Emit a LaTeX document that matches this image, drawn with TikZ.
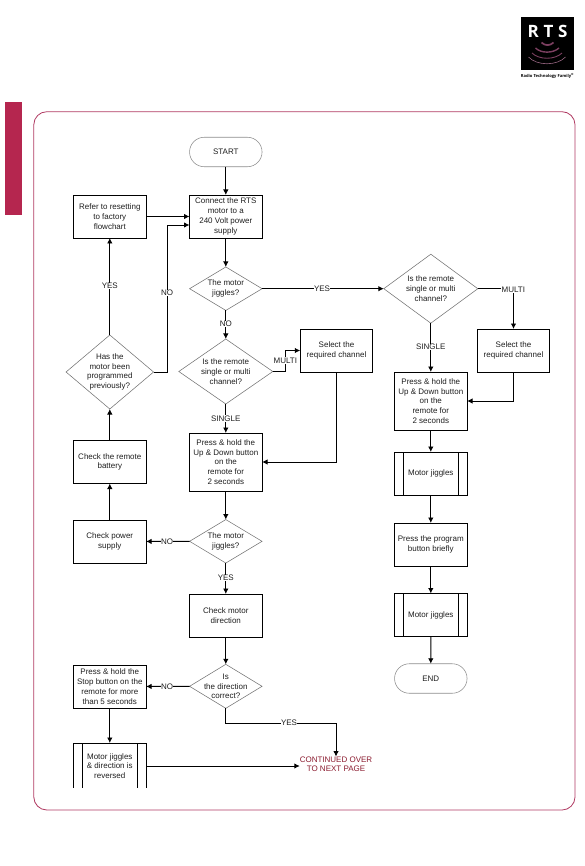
\documentclass[tikz,border=0pt]{standalone}
\usepackage{fontspec}
\setmainfont{Liberation Sans}
\newfontfamily\logofont{Open Sans}
\usetikzlibrary{shapes.geometric,shapes.misc,arrows.meta}
\definecolor{crim}{HTML}{B5264F}
\definecolor{framec}{HTML}{B03A62}
\definecolor{txtc}{HTML}{1E1E1E}
\definecolor{contc}{HTML}{8A1A2E}
\definecolor{logoarc}{HTML}{7C3F60}
\tikzset{
  x=1pt,y=-1pt,
  every node/.style={font=\fontsize{8}{9.8}\selectfont,text=txtc,align=center,inner sep=0pt,outer sep=0pt},
  box/.style={draw=black,line width=0.95pt,minimum width=72.5pt},
  h43/.style={minimum height=43pt},
  subproc/.style={box,h43,path picture={
     \draw[black,line width=0.95pt] ([xshift=9pt]path picture bounding box.north west) -- ([xshift=9pt]path picture bounding box.south west);
     \draw[black,line width=0.95pt] ([xshift=-9pt]path picture bounding box.north east) -- ([xshift=-9pt]path picture bounding box.south east);}},
  dia/.style={diamond,draw=black!55,line width=0.55pt,aspect=1.6},
  dtext/.style={align=center,font=\fontsize{8}{9.8}\selectfont,text=txtc,inner sep=0pt},
  term/.style={rounded rectangle,draw=black!45,line width=0.55pt,minimum width=72.5pt,minimum height=29.5pt},
  lab/.style={fill=white,inner xsep=0.4pt,inner ysep=0.6pt},
  conn/.style={draw=black,line width=0.95pt,-{Latex[length=5.5pt,width=5.5pt]}},
}
\begin{document}
\begin{tikzpicture}
\useasboundingbox (0,0) rectangle (584,866);
% page furniture
\fill[crim] (5,102) rectangle (22,215);
\draw[framec,line width=0.8pt,rounded corners=13pt] (33.8,111.7) rectangle (575,810);
% logo
\fill[black] (520.5,17) rectangle (574,70.5);
\node[font=\logofont\bfseries\fontsize{17}{17}\selectfont,text=white] (rts) at (547.6,31) {R\hspace{4.8pt}T\hspace{4.8pt}S};
\draw[logoarc,line width=1.7pt] (541.5,42.5) .. controls (545,46) and (550,46) .. (553.5,42.5);
\draw[logoarc,line width=1.4pt] (535.5,48) .. controls (541,53.5) and (553,53.5) .. (559,48);
\draw[logoarc,line width=0.9pt] (532,53) .. controls (539,60) and (555,60) .. (562,53);
\draw[logoarc!80,line width=0.6pt] (528.5,57) .. controls (537,66) and (557,66) .. (565.5,57);
\node[font=\logofont\bfseries\fontsize{4.1}{5}\selectfont,text=black] (tag) at (547.5,76) {Radio Technology Family\textsuperscript{®}};
% left column
\node[box,h43] (refer) at (109.8,216.5) {Refer to resetting\\to factory\\flowchart};
\node[dia,minimum width=87.5pt,minimum height=74pt,label={[dtext]center:Has the\\motor been\\programmed\\previously?}] (has) at (109.8,372) {};
\node[box,h43] (battery) at (109.8,462) {Check the remote\\battery};
\node[box,h43] (power) at (109.8,541.5) {Check power\\supply};
\node[box,h43] (stop) at (109.8,686.5) {Press \& hold the\\Stop button on the\\remote for more\\than 5 seconds};
\begin{scope}
\clip (60,735) rectangle (160,787);
\node[subproc,minimum height=46pt] (mjrev) at (109.8,766) {Motor jiggles\\\& direction is\\reversed};
\end{scope}
% middle column
\node[term] (start) at (225.8,152) {START};
\node[box,h43] (connect) at (225.8,216.5) {Connect the RTS\\motor to a\\240 Volt power\\supply};
\node[dia,minimum width=72.5pt,minimum height=43.5pt,label={[dtext]center:The motor\\jiggles?}] (d1) at (225.8,288.7) {};
\node[dia,minimum width=94pt,minimum height=65pt,label={[dtext]center:Is the remote\\single or multi\\channel?}] (d2) at (225.8,371.5) {};
\node[box,h43] (sel1) at (336.5,350.5) {Select the\\required channel};
\node[box,minimum height=58pt] (press1) at (225.8,462) {Press \& hold the\\Up \& Down button\\on the\\remote for\\2 seconds};
\node[dia,minimum width=72.5pt,minimum height=43.5pt,label={[dtext]center:The motor\\jiggles?}] (d3) at (225.8,541.3) {};
\node[box,h43] (dir) at (225.8,615.5) {Check motor\\direction};
\node[dia,minimum width=72.5pt,minimum height=44pt,label={[dtext]center:Is\\the direction\\correct?}] (d4) at (225.8,686.3) {};
\node[text=contc] (cont) at (336,764.3) {CONTINUED OVER\\TO NEXT PAGE};
% right column
\node[dia,minimum width=94pt,minimum height=69pt,label={[dtext]center:Is the remote\\single or multi\\channel?}] (d5) at (430.8,288.7) {};
\node[box,h43] (sel2) at (513.5,350.5) {Select the\\required channel};
\node[box,minimum height=58pt] (press2) at (430.8,401) {Press \& hold the\\Up \& Down button\\on the\\remote for\\2 seconds};
\node[subproc] (mj1) at (430.8,473.5) {Motor jiggles};
\node[box,h43] (prog) at (430.8,544.5) {Press the program\\button briefly};
\node[subproc] (mj2) at (430.8,615) {Motor jiggles};
\node[term] (end) at (430.8,678.5) {END};
% bend points
\coordinate (nob) at (167,225);
\coordinate (mb1) at (285.5,371.5);
\coordinate (yb) at (225.8,723.3);
\coordinate (yc) at (336,723.3);
% connectors
\draw[conn] (start) -- (connect);
\draw[conn] (refer) -- (connect);
\draw[conn] (has.east) -| (nob) -- (nob -| connect.west);
\draw[conn] (connect) -- (d1);
\draw[conn] (d1) -- (d2);
\draw[conn] (d1) -- (d5);
\draw[conn] (d2.east) -- (mb1) |- (sel1.west);
\draw[conn] (d2) -- (press1);
\draw[conn] (sel1.south) |- (press1.east);
\draw[conn] (press1) -- (d3);
\draw[conn] (d3) -- (dir);
\draw[conn] (d3) -- (power);
\draw[conn] (power) -- (battery);
\draw[conn] (battery) -- (has);
\draw[conn] (has) -- (refer);
\draw[conn] (dir) -- (d4);
\draw[conn] (d4) -- (stop);
\draw[conn] (stop) -- (mjrev.north);
\draw[conn] (mjrev.east) -- (mjrev.east -| cont.west);
\draw[conn] (d4.south) -- (yb) -- (yc) -- (cont.north);
\draw[conn] (d5) -- (press2);
\draw[conn] (d5.east) -| (sel2.north);
\draw[conn] (sel2.south) |- (press2.east);
\draw[conn] (press2) -- (mj1);
\draw[conn] (mj1) -- (prog);
\draw[conn] (prog) -- (mj2);
\draw[conn] (mj2) -- (end);
% connector labels
\node[lab] (l1) at (109.8,286) {YES};
\node[lab] (l2) at (167,293) {NO};
\node[lab] (l3) at (225.8,324) {NO};
\node[lab] (l4) at (322,288.5) {YES};
\node[lab] (l5) at (285.3,360.3) {MULTI};
\node[lab] (l6) at (225.8,418.3) {SINGLE};
\node[lab] (l7) at (167,541.3) {NO};
\node[lab] (l8) at (225.8,578) {YES};
\node[lab] (l9) at (167,686.3) {NO};
\node[lab] (l10) at (289,722.3) {YES};
\node[lab] (l11) at (430.8,347) {SINGLE};
\node[lab] (l12) at (513.3,290) {MULTI};
\end{tikzpicture}
\end{document}
